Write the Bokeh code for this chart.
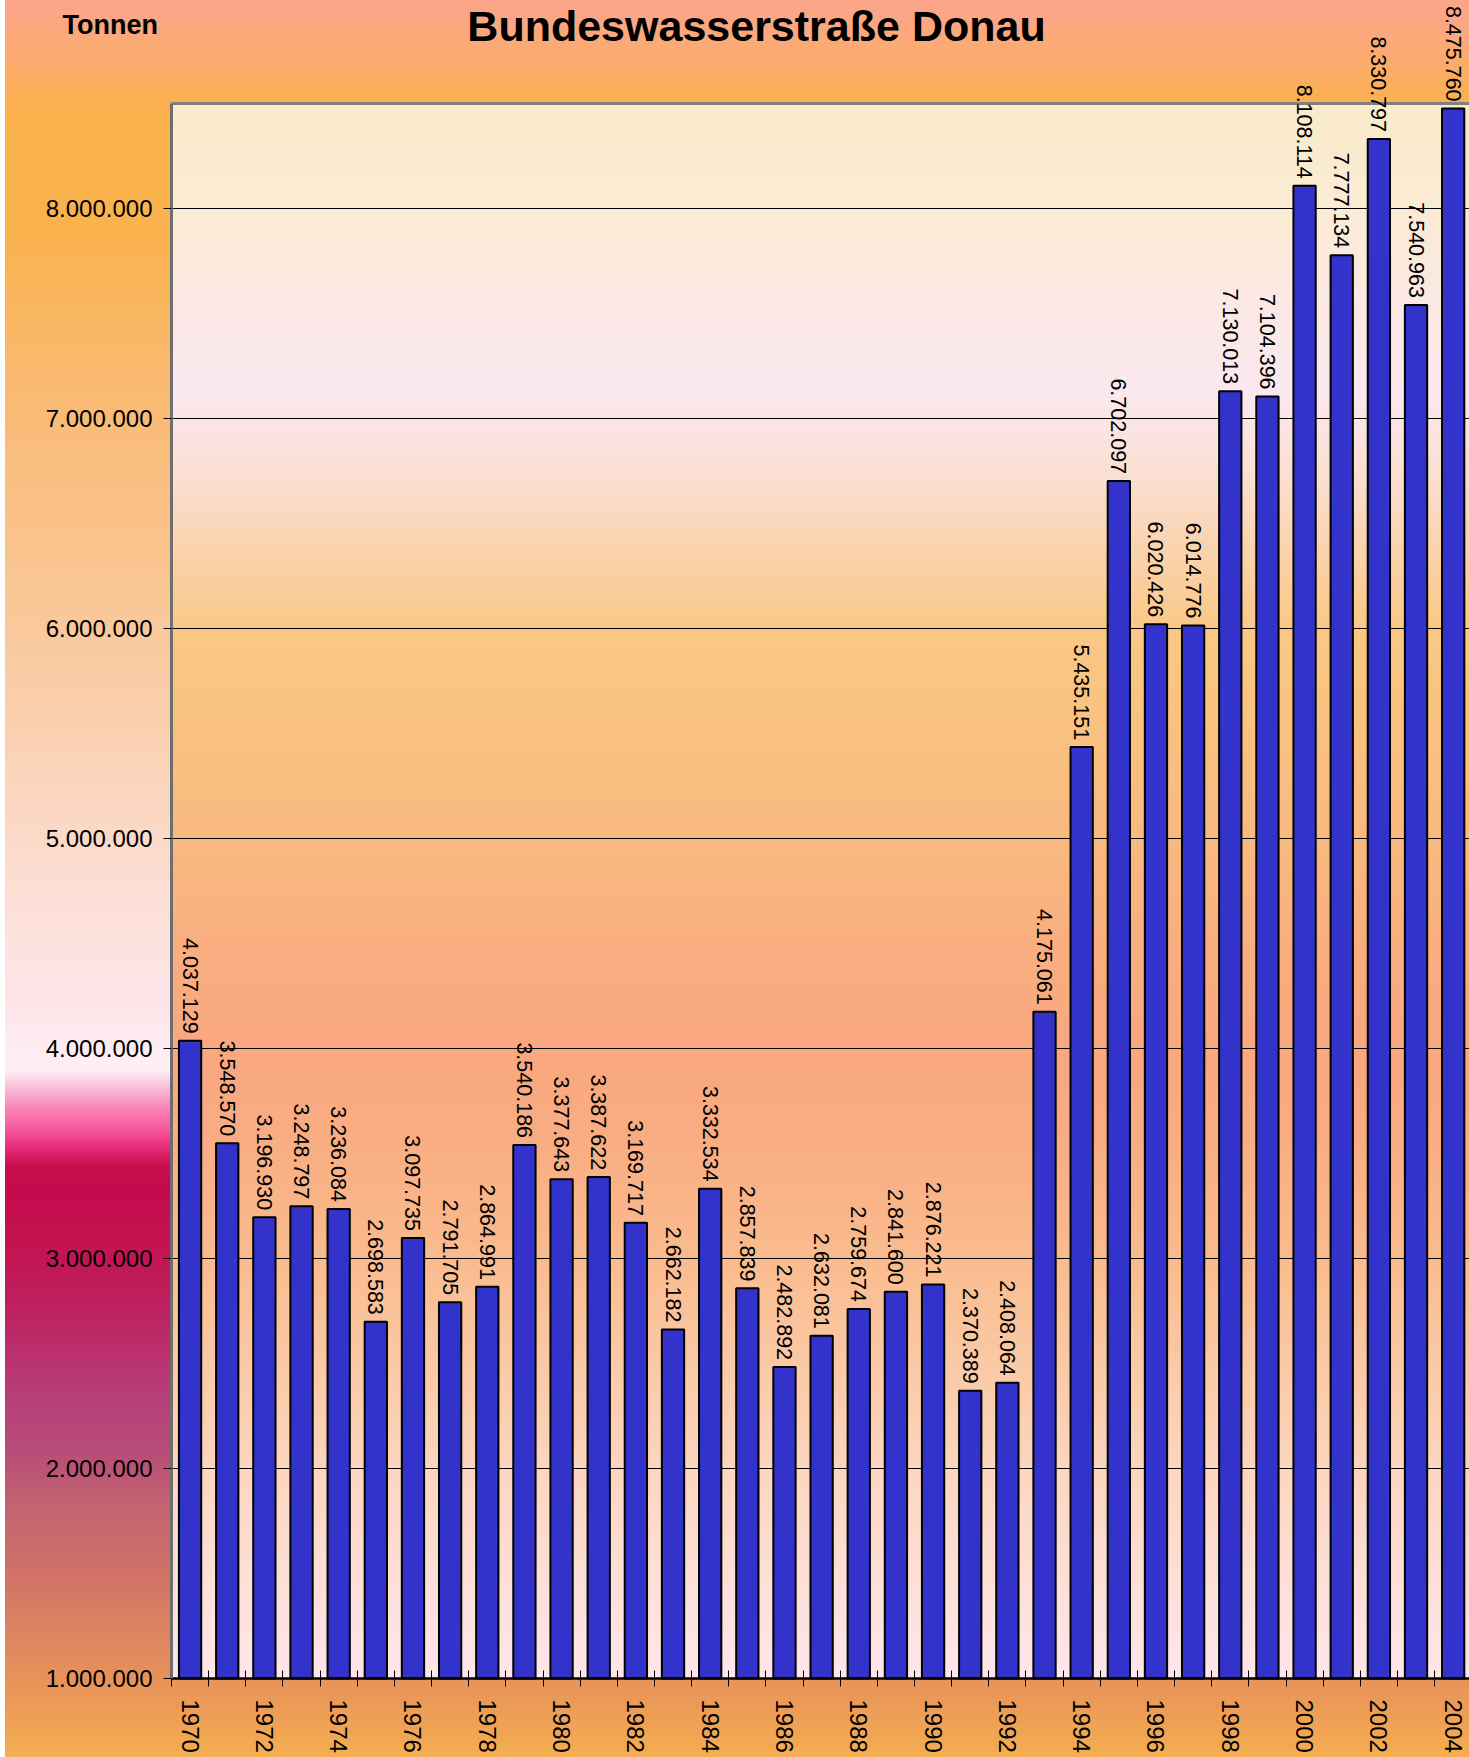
import math
import numpy as np
from bokeh.plotting import figure
from bokeh.models import ColumnDataSource, FixedTicker, LinearAxis, Label, LabelSet, Range1d
from bokeh.core.properties import value
from bokeh.embed import file_html
from bokeh.resources import INLINE

# ---------------- data ----------------
years = list(range(1970, 2005))
tonnage = [4037129, 3548570, 3196930, 3248797, 3236084, 2698583, 3097735,
           2791705, 2864991, 3540186, 3377643, 3387622, 3169717, 2662182,
           3332534, 2857839, 2482892, 2632081, 2759674, 2841600, 2876221,
           2370389, 2408064, 4175061, 5435151, 6702097, 6020426, 6014776,
           7130013, 7104396, 8108114, 7777134, 8330797, 7540963, 8475760]
value_labels = [f"{v:,}".replace(",", ".") for v in tonnage]
y_ticks = [1000000, 2000000, 3000000, 4000000, 5000000, 6000000, 7000000, 8000000]
y_tick_labels = ["1.000.000", "2.000.000", "3.000.000", "4.000.000",
                 "5.000.000", "6.000.000", "7.000.000", "8.000.000"]
x_label_years = years[::2]
x_tick_labels = [str(y) for y in x_label_years]
title_text = "Bundeswasserstraße Donau"
unit_text = "Tonnen"

FONT = "Liberation Sans"

# ---------------- layout (page pixels) ----------------
CANVAS_X0 = 5
W, H = 1469 - CANVAS_X0, 1757
PLOT_LEFT, PLOT_TOP, PLOT_BOTTOM = 171, 103, 1678
y_lo, y_hi = 1000000, 8500000
PX_PER_YEAR = 37.15
PX_PER_T = (PLOT_BOTTOM - PLOT_TOP) / (y_hi - y_lo)
x_lo = 1969.5
x_start = x_lo - (PLOT_LEFT - CANVAS_X0) / PX_PER_YEAR
x_end = x_lo + (1469 - PLOT_LEFT) / PX_PER_YEAR
y_end = y_hi + PLOT_TOP / PX_PER_T
y_start = y_lo - (H - PLOT_BOTTOM) / PX_PER_T


def dx(page_x):
    return x_start + (page_x - CANVAS_X0) / PX_PER_YEAR


def dy(page_y):
    return y_end - page_y / PX_PER_T


# outer background gradient (page px -> colour)
outer_stops = [(0, "#FCA58A"), (20, "#FBA684"), (40, "#FBAA78"), (60, "#FAAB6E"),
               (80, "#FAAE60"), (100, "#FAB052"), (125, "#FAB24C"), (230, "#FAB24E"),
               (400, "#F9BA74"), (560, "#F9C48E"), (730, "#FAD0B0"), (900, "#FCDFD6"),
               (1000, "#FDE4E8"), (1050, "#FEECF3"), (1070, "#FFF0F5"), (1090, "#F8B8D4"),
               (1110, "#F880B4"), (1130, "#F8589C"), (1145, "#E83080"), (1165, "#C81050"),
               (1185, "#C40A4C"), (1250, "#C41452"), (1300, "#BE1E5E"), (1400, "#B6407A"),
               (1450, "#B84C78"), (1513, "#C46670"), (1569, "#D07068"), (1625, "#DC8262"),
               (1680, "#E8925A"), (1757, "#F4AE50")]
css_grad = "linear-gradient(to bottom, " + ", ".join(f"{c} {y}px" for y, c in outer_stops) + ")"

# plot area gradient (page px -> colour)
plot_stops = [(103, "#FAEBCB"), (208, "#FBEBD4"), (300, "#FBE9E4"), (392, "#FCE8F0"),
              (470, "#FBE0D4"), (560, "#FAD2AA"), (628, "#FAC886"), (700, "#FAC480"),
              (838, "#F9BA80"), (950, "#F9AE80"), (1048, "#F9A880"), (1130, "#F9AC82"),
              (1258, "#FABC8E"), (1370, "#FBCAA8"), (1468, "#FCD6C0"), (1570, "#FDDFD6"),
              (1678, "#FFE6EC")]


def hex2rgb(h):
    return [int(h[i:i + 2], 16) for i in (1, 3, 5)]


N = PLOT_BOTTOM - PLOT_TOP
page_y = PLOT_BOTTOM - (np.arange(N) + 0.5)
sy = [s[0] for s in plot_stops]
rgb = np.array([hex2rgb(s[1]) for s in plot_stops], dtype=float)
img = np.zeros((N, 1), dtype=np.uint32)
view = img.view(dtype=np.uint8).reshape((N, 1, 4))
for ch in range(3):
    view[:, 0, ch] = np.clip(np.interp(page_y, sy, rgb[:, ch]), 0, 255).astype(np.uint8)
view[:, 0, 3] = 255

# ---------------- figure ----------------
p = figure(width=W, height=H, x_range=Range1d(x_start, x_end), y_range=Range1d(y_start, y_end),
           output_backend="svg", toolbar_location=None, x_axis_type=None, y_axis_type=None,
           min_border=0, min_border_left=0, min_border_right=0, min_border_top=0, min_border_bottom=0)
p.border_fill_color = None
p.background_fill_color = None
p.outline_line_color = None
p.styles = {"margin-left": f"{CANVAS_X0}px", "background-image": css_grad}

p.image_rgba(image=[img], x=x_lo, y=y_lo, dw=x_end - x_lo, dh=y_hi - y_lo, level="image")

# horizontal grid lines at the y ticks
p.segment(x0=[x_lo] * len(y_ticks), x1=[x_end] * len(y_ticks), y0=y_ticks, y1=y_ticks,
          line_color="black", line_width=1, level="underlay")

src = ColumnDataSource(dict(year=years, tonnage=tonnage, label=value_labels))
p.vbar(x="year", top="tonnage", bottom=y_lo, width=0.6, source=src,
       fill_color="#3333CC", line_color="black", line_width=2)

labels = LabelSet(x="year", y="tonnage", text="label", source=src,
                  angle=-math.pi / 2, text_align="right", text_baseline="middle",
                  y_offset=7, text_font=value(FONT), text_font_size="21.5px", text_color="black")
p.add_layout(labels)

# x axis (bottom)
xa = LinearAxis(fixed_location=y_lo, bounds=(x_lo, x_end))
xa.ticker = FixedTicker(ticks=x_label_years, minor_ticks=[y - 0.5 for y in years] + [years[-1] + 0.5])
xa.major_label_overrides = dict(zip(x_label_years, x_tick_labels))
xa.major_tick_line_color = None
xa.major_tick_in = 0
xa.major_tick_out = 8
xa.minor_tick_in = 8
xa.minor_tick_out = 8
xa.minor_tick_line_color = "black"
xa.minor_tick_line_width = 1
xa.major_label_orientation = -math.pi / 2
xa.major_label_text_font = FONT
xa.major_label_text_font_size = "24px"
xa.major_label_text_color = "black"
xa.major_label_standoff = 13
xa.axis_line_color = "black"
xa.axis_line_width = 2.5
p.add_layout(xa, "below")

# y axis (left)
ya = LinearAxis(fixed_location=x_lo, bounds=(y_lo, y_hi))
ya.ticker = FixedTicker(ticks=y_ticks)
ya.major_label_overrides = dict(zip(y_ticks, y_tick_labels))
ya.major_tick_in = 0
ya.major_tick_out = 8
ya.major_tick_line_color = "black"
ya.minor_tick_line_color = None
ya.major_label_text_font = FONT
ya.major_label_text_font_size = "24px"
ya.major_label_text_color = "black"
ya.major_label_standoff = 11
ya.axis_line_color = "#6e6e6e"
ya.axis_line_width = 3
p.add_layout(ya, "left")

# top frame border
top_axis = LinearAxis(fixed_location=y_hi, bounds=(x_lo, x_end), ticker=FixedTicker(ticks=[]),
                      axis_line_color="#808080", axis_line_width=3,
                      major_tick_line_color=None, minor_tick_line_color=None,
                      major_label_text_font_size="0px")
p.add_layout(top_axis, "above")

p.add_layout(Label(x=dx(756), y=dy(25), text=title_text,
                   text_font=FONT, text_font_style="bold", text_font_size="43px",
                   text_align="center", text_baseline="alphabetic", text_color="black"))
p.add_layout(Label(x=dx(62), y=dy(24), text=unit_text,
                   text_font=FONT, text_font_style="bold", text_font_size="27px",
                   text_align="left", text_baseline="alphabetic", text_color="black"))

open("out.html", "w").write(file_html(p, INLINE))
